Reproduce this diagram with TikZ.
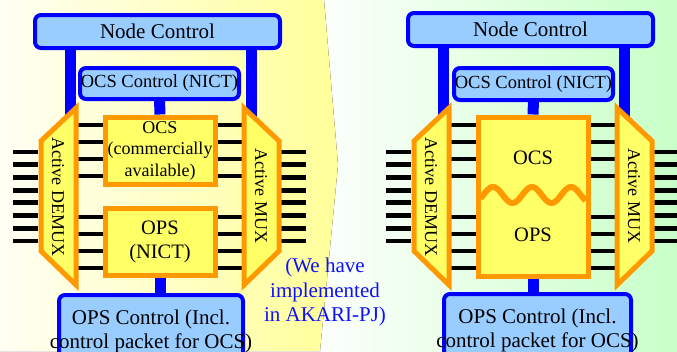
\documentclass[tikz,border=0pt]{standalone}
\usepackage{fontspec}
\setmainfont{Liberation Serif}
\newfontfamily\tms{Liberation Serif}
\definecolor{ctrlfill}{HTML}{99CCFF}
\definecolor{ctrlline}{HTML}{0000FF}
\definecolor{swline}{HTML}{FF9900}
\definecolor{swfill}{HTML}{FFFF66}
\definecolor{bgyel}{HTML}{FFFF99}
\definecolor{bgl}{HTML}{FFFFF4}
\definecolor{bggrn}{HTML}{C8FFC8}
\definecolor{txtblue}{HTML}{1010FF}
\begin{document}
\begin{tikzpicture}[x=1pt,y=-1pt,
  ctrl/.style={draw=ctrlline, fill=ctrlfill, line width=4pt, rounded corners=6pt, inner sep=0pt, outer sep=0pt},
  swbox/.style={draw=swline, fill=swfill, line width=5pt, inner sep=0pt, outer sep=0pt},
  bar/.style={draw=ctrlline, line width=11pt},
  wire/.style={draw=black, line width=4.8pt},
  rtxt/.style={rotate=-90, font=\tms\fontsize{18}{20}\selectfont},
  fbig/.style={font=\tms\fontsize{21}{24}\selectfont},
  fmid/.style={font=\tms\fontsize{18.5}{22}\selectfont},
]
\useasboundingbox (0,0) rectangle (677,351);
\clip (0,0) rectangle (677,351);
% backgrounds
\fill[left color=white, right color=bggrn] (300,0) rectangle (677,351);
\fill[left color=bgl, right color=bgyel] (0,0) -- (324,0) -- (338,165) -- (320,351) -- (0,351) -- cycle;

% ---------- common parts of a panel ----------
\newcommand\panelparts{%
  \foreach \i in {0,...,7}{
    \draw[wire] (13,{152+12.7*\i}) -- (38,{152+12.7*\i});
    \draw[wire] (281,{152+12.7*\i}) -- (306,{152+12.7*\i});
  }
  \foreach \yy in {125,142,159,176,217,234,251,268}{
    \draw[wire] (76,\yy) -- (106,\yy);
    \draw[wire] (214,\yy) -- (244,\yy);
  }
  \draw[swbox] (76,108) -- (41,141) -- (41,251) -- (76,285) -- cycle;
  \draw[swbox] (244,108) -- (279,141) -- (279,251) -- (244,285) -- cycle;
  \node[rtxt] (dmx) at (58,197) {Active DEMUX};
  \node[rtxt] (mux) at (261,196) {Active MUX};
}

% ================= left panel =================
\begin{scope}[name prefix=L-]
  \node[ctrl, fbig, minimum width=245pt, minimum height=33pt] (nc) at (157.5,31.5) {Node Control};
  \draw[bar] ([xshift=-87pt]L-nc.south) -- ++(0,75);
  \draw[bar] ([xshift=93.5pt]L-nc.south) -- ++(0,75);
  \panelparts
  \node[ctrl, fmid, minimum width=159pt, minimum height=31pt] (ocsc) at (159.5,83.5) {OCS Control (NICT)};
  \node[swbox, align=center, font=\tms\fontsize{18}{21.5}\selectfont, minimum width=110pt, minimum height=67pt] (ocs) at (160,150.5) {OCS\\(commercially\\available)};
  \node[swbox, align=center, font=\tms\fontsize{20.5}{24}\selectfont, minimum width=110pt, minimum height=67pt] (ops) at (160,242) {OPS\\(NICT)};
  \draw[bar] (L-ocsc.south) -- ([yshift=2.5pt]L-ocs.north);
  \node[ctrl, fbig, align=center, anchor=north, minimum width=184pt, minimum height=72pt] (opsc) at (151,295) {\makebox[0pt]{OPS Control (Incl.}\\\makebox[0pt]{control packet for OCS)}};
  \draw[bar] ([yshift=-2.5pt]L-ops.south) -- (L-ops.south |- L-opsc.north);
\end{scope}

% ================= right panel =================
\begin{scope}[xshift=373pt, name prefix=R-]
  \node[ctrl, fbig, minimum width=245pt, minimum height=33pt] (nc) at (157.5,29.5) {Node Control};
  \draw[bar] ([xshift=-87pt]R-nc.south) -- ++(0,77);
  \draw[bar] ([xshift=93.5pt]R-nc.south) -- ++(0,77);
  \panelparts
  \node[ctrl, fmid, minimum width=159pt, minimum height=32pt] (ocsc) at (160.5,84) {OCS Control (NICT)};
  \node[swbox, minimum width=110pt, minimum height=159pt] (sw) at (160,196.5) {};
  \draw[draw=swline, line width=6pt] plot[domain=107.5:212.5, samples=90, smooth] (\x, {195-8*sin(9.2308*(\x-110.25))});
  \node[font=\tms\fontsize{20.5}{24}\selectfont] (ocsT) at (160,158) {OCS};
  \node[font=\tms\fontsize{20.5}{24}\selectfont] (opsT) at (160,235) {OPS};
  \draw[bar] (R-ocsc.south) -- ([yshift=2.5pt]R-sw.north);
  \node[ctrl, fbig, align=center, anchor=north, minimum width=187pt, minimum height=72pt] (opsc) at (164.5,294) {\makebox[0pt]{OPS Control (Incl.}\\\makebox[0pt]{control packet for OCS)}};
  \draw[bar] ([yshift=-2.5pt]R-sw.south) -- (R-sw.south |- R-opsc.north);
\end{scope}

% note
\node[text=txtblue, align=center, font=\tms\fontsize{21}{24.5}\selectfont] (note) at (325,292) {(We have\\implemented\\in AKARI-PJ)};
\end{tikzpicture}
\end{document}
